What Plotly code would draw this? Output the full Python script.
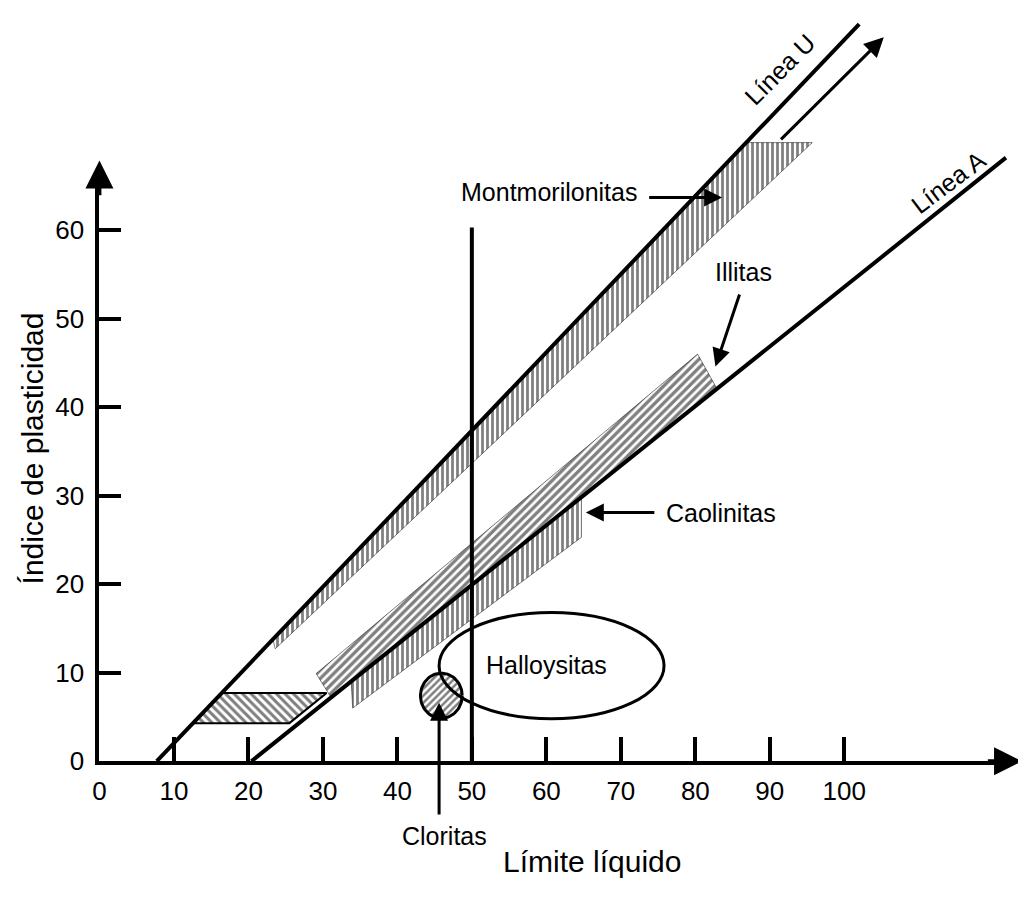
import numpy as np
import plotly.graph_objects as go

# ---------------- data (LL = límite líquido, PI = índice de plasticidad) -------------
x_ticks = [0, 10, 20, 30, 40, 50, 60, 70, 80, 90, 100]
y_ticks = [0, 10, 20, 30, 40, 50, 60]

u_ll = [7.7, 102.0]
u_pi = [0.0, 83.3]
a_ll = [20.4, 121.7]
a_pi = [0.0, 68.2]

vline_ll = [50.0, 50.0]
vline_pi = [0.0, 60.3]

mont_ll = [23.3, 86.9, 95.7, 23.6]
mont_pi = [13.8, 69.9, 69.9, 12.7]
ill_ll = [29.1, 80.3, 82.9, 31.1]
ill_pi = [9.9, 46.0, 42.1, 7.2]
cao_ll = [33.8, 64.7, 64.7, 34.0]
cao_pi = [9.1, 29.8, 25.3, 6.0]
band_ll = [12.6, 16.4, 30.5, 25.5]
band_pi = [4.3, 7.7, 7.7, 4.3]

hall_center = (60.7, 10.8)
hall_radius = (15.1, 6.0)
clor_center = (45.9, 7.4)
clor_radius = (2.8, 2.55)

ext_tail = (91.3, 70.1)
ext_tip = (105.3, 81.8)

# ---------------- scale (pixels) ----------------
W, H = 1026, 898
OFFX, OFFY = 10.0, 0.0         # page offset of the plot div
PX0, PY0 = 95.0, 766.0         # page pixel of the origin
SX, SY = 7.5, 9.0              # pixels per unit
X0PX, Y0PX = PX0 - OFFX, PY0 - OFFY   # figure pixel of origin


def dx(px):
    return (px - PX0) / SX


def dy(py):
    return (PY0 - py) / SY


xr = [(0 - X0PX) / SX, (W - X0PX) / SX]
yr = [(Y0PX - H) / SY, (Y0PX - 0) / SY]

AX_RIGHT_PAGE = 1008.0
AX_TOP_PAGE = 172.0

TICKFONT = dict(family="Liberation Sans, Arial, sans-serif", size=26, color="black")
ANNFONT = dict(family="Liberation Sans, Arial, sans-serif", size=25, color="black")
TITLEFONT = dict(family="Liberation Sans, Arial, sans-serif", size=30, color="black")

fig = go.Figure()


def poly(xs, ys, shape, size, solid, lw=0):
    fig.add_trace(go.Scatter(
        x=xs + xs[:1], y=ys + ys[:1], mode="lines", fill="toself",
        fillcolor="rgba(0,0,0,0)",
        fillpattern=dict(shape=shape, size=size, solidity=solid,
                         fgcolor="black", bgcolor="rgba(0,0,0,0)"),
        line=dict(color="black", width=lw if lw else 0.5),
        hoverinfo="skip", showlegend=False))


poly(mont_ll, mont_pi, "|", 5, 0.55)
poly(ill_ll, ill_pi, "/", 6, 0.55)
poly(cao_ll, cao_pi, "|", 5, 0.55)
poly(band_ll, band_pi, "\\", 6, 0.5, lw=2)

# Cloritas circle
t = np.linspace(0, 2 * np.pi, 80)
cx = list(clor_center[0] + clor_radius[0] * np.cos(t))
cy = list(clor_center[1] + clor_radius[1] * np.sin(t))
fig.add_trace(go.Scatter(
    x=cx, y=cy, mode="lines", fill="toself", fillcolor="rgba(0,0,0,0)",
    fillpattern=dict(shape="/", size=5, solidity=0.5, fgcolor="black",
                     bgcolor="rgba(0,0,0,0)"),
    line=dict(color="black", width=3), hoverinfo="skip", showlegend=False))

# main lines
for xs, ys in [(u_ll, u_pi), (a_ll, a_pi), (vline_ll, vline_pi)]:
    fig.add_trace(go.Scatter(x=xs, y=ys, mode="lines",
                             line=dict(color="black", width=4),
                             hoverinfo="skip", showlegend=False))

# Halloysitas ellipse
fig.add_shape(type="circle", xref="x", yref="y",
              x0=hall_center[0] - hall_radius[0], x1=hall_center[0] + hall_radius[0],
              y0=hall_center[1] - hall_radius[1], y1=hall_center[1] + hall_radius[1],
              line=dict(color="black", width=3))

# axis subplot (x2/y2) for the visible axes
fig.add_trace(go.Scatter(x=[0], y=[0], xaxis="x2", yaxis="y2", mode="markers",
                         marker=dict(opacity=0), hoverinfo="skip", showlegend=False))


def arrow(tip, tail, w=3, size=1.2, head=2):
    fig.add_annotation(x=tip[0], y=tip[1], ax=tail[0], ay=tail[1],
                       xref="x", yref="y", axref="x", ayref="y",
                       showarrow=True, arrowhead=head, arrowsize=size,
                       arrowwidth=w, arrowcolor="black", text="")


# axes arrows
arrow((dx(1024), 0), (dx(AX_RIGHT_PAGE - 20), 0), w=4, size=1.4)
arrow((0, dy(155)), (0, dy(AX_TOP_PAGE + 20)), w=4, size=1.4)

# extension arrow along U line
arrow(ext_tip, ext_tail, w=3, size=1.3)
# label arrows
arrow((83.6, 63.7), (73.6, 63.7), w=3, size=1.2)      # Montmorilonitas
arrow((82.7, 44.6), (86.0, 52.9), w=3, size=1.2)      # Illitas
arrow((65.3, 28.1), (74.7, 28.1), w=3, size=1.2)      # Caolinitas
arrow((45.6, 6.6), (45.6, -6.2), w=3, size=1.2)       # Cloritas


def label(txt, x, y, angle=0, font=ANNFONT):
    fig.add_annotation(x=x, y=y, xref="x", yref="y", text=txt, showarrow=False,
                       textangle=angle, font=font, xanchor="center", yanchor="middle")


label("Línea U", 91.4, 78.2, angle=-45)
label("Línea A", 114.0, 65.4, angle=-37)
label("Montmorilonitas", 60.3, 64.3)
label("Illitas", 86.5, 55.3)
label("Caolinitas", 83.5, 28.1)
label("Halloysitas", 60.0, 10.9)
label("Cloritas", 46.3, -8.5)

label("Límite líquido", dx(591), dy(868), font=TITLEFONT)
label("Índice de plasticidad", dx(28), dy(448), angle=-90, font=TITLEFONT)

fig.update_layout(
    width=W, height=H, margin=dict(l=0, r=0, t=0, b=0),
    paper_bgcolor="white", plot_bgcolor="rgba(0,0,0,0)",
    showlegend=False,
    xaxis=dict(range=xr, visible=False, domain=[0, 1]),
    yaxis=dict(range=yr, visible=False, domain=[0, 1]),
    xaxis2=dict(domain=[X0PX / W, (AX_RIGHT_PAGE - OFFX) / W],
                range=[0, dx(AX_RIGHT_PAGE)],
                anchor="y2", showline=True, linewidth=4, linecolor="black",
                ticks="inside", ticklen=24, tickwidth=4, tickcolor="black",
                tickvals=x_ticks, ticktext=[str(v) for v in x_ticks],
                tickfont=TICKFONT, showgrid=False, zeroline=False,
                ticklabelstandoff=4, fixedrange=True),
    yaxis2=dict(domain=[(H - Y0PX) / H, (H - (AX_TOP_PAGE - OFFY)) / H],
                range=[0, dy(AX_TOP_PAGE)],
                anchor="x2", showline=True, linewidth=4, linecolor="black",
                ticks="inside", ticklen=22, tickwidth=4, tickcolor="black",
                tickvals=y_ticks, ticktext=[str(v) for v in y_ticks],
                tickfont=TICKFONT, showgrid=False, zeroline=False,
                ticklabelstandoff=6, fixedrange=True),
)

fig.write_html("out.html")
